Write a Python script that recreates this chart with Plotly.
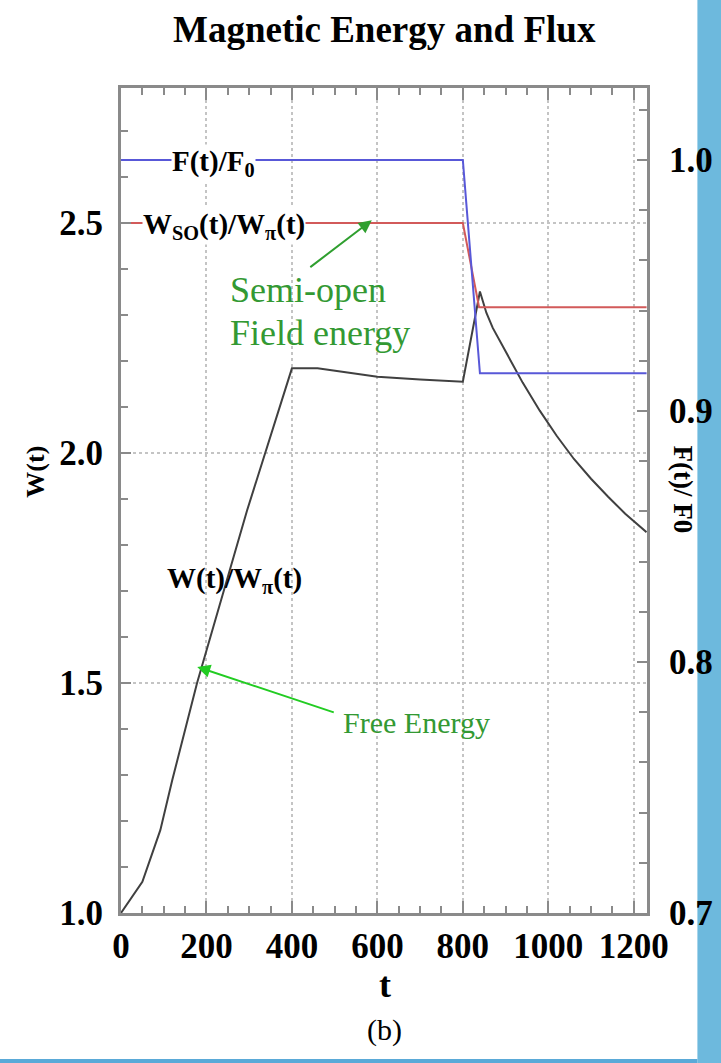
import plotly.graph_objects as go

# ---- data ----
t_w = [0, 50, 92, 120, 178, 295, 400, 460, 530, 600, 700, 800,
       840, 855, 870, 900, 940, 980, 1020, 1060, 1100, 1140, 1180, 1230]
w_free = [1.0, 1.068, 1.18, 1.289, 1.5, 1.875, 2.184, 2.184, 2.175,
          2.166, 2.16, 2.155, 2.351, 2.305, 2.272, 2.220, 2.153, 2.092, 2.037,
          1.987, 1.944, 1.905, 1.868, 1.828]

t_so = [0, 800, 838, 1230]
w_so = [2.5, 2.5, 2.317, 2.317]

t_f = [0, 800, 840, 1230]
f_flux = [1.0, 1.0, 0.915, 0.915]

x_ticks = [0, 200, 400, 600, 800, 1000, 1200]
w_ticks = [1.0, 1.5, 2.0, 2.5]
f_ticks = [0.7, 0.8, 0.9, 1.0]

# ---- layout geometry (pixels) ----
W_PX, H_PX = 721, 1063
L, R, T, B = 120.5, 647.5, 88, 913
PW, PH = R - L, B - T


def px(x):
    return (x - L) / PW


def py(y):
    return (B - y) / PH


SERIF = "Liberation Serif, Times New Roman, serif"
GREEN = "#339933"

fig = go.Figure()
fig.add_trace(go.Scatter(x=t_w, y=w_free, mode="lines",
                         line=dict(color="#404040", width=2), showlegend=False))
fig.add_trace(go.Scatter(x=t_so, y=w_so, mode="lines",
                         line=dict(color="#d25a5a", width=2), showlegend=False))
fig.add_trace(go.Scatter(x=t_f, y=f_flux, mode="lines", yaxis="y2",
                         line=dict(color="#5858d8", width=2), showlegend=False))

axis_line = dict(showline=True, linecolor="#8a8a8a", linewidth=3, automargin=False)
tickfont = dict(family=SERIF, size=35, color="black", weight="bold")

fig.update_layout(
    width=W_PX, height=H_PX,
    margin=dict(l=L, r=W_PX - R, t=T, b=H_PX - B, autoexpand=False),
    plot_bgcolor="white", paper_bgcolor="white",
    xaxis=dict(range=[0, 1231], tickvals=x_ticks, ticks="inside", ticklen=12,
               tickwidth=2, tickcolor="#8a8a8a", mirror="ticks",
               minor=dict(dtick=50, ticks="inside", ticklen=7, tickcolor="#8a8a8a", tickwidth=2),
               showgrid=True, gridcolor="#c4c4c4", griddash="dot", gridwidth=2,
               tickfont=tickfont, zeroline=False, ticklabelstandoff=0, **axis_line),
    yaxis=dict(range=[1.0, 1.0 + PH / 460.0], tickvals=w_ticks, ticktext=["1.0", "1.5", "2.0", "2.5"],
               ticks="inside", ticklen=10, tickwidth=2, tickcolor="#8a8a8a",
               minor=dict(dtick=0.1, ticks="inside", ticklen=7, tickcolor="#8a8a8a", tickwidth=2),
               showgrid=True, gridcolor="#c4c4c4", griddash="dot", gridwidth=2,
               tickfont=tickfont, zeroline=False, ticklabelstandoff=8, **axis_line),
    yaxis2=dict(range=[0.7, 0.7 + PH / 2510.0], overlaying="y", side="right",
                tickvals=f_ticks, ticktext=["0.7", "0.8", "0.9", "1.0"],
                ticks="inside", ticklen=10, tickwidth=2, tickcolor="#8a8a8a",
                minor=dict(dtick=0.02, ticks="inside", ticklen=8, tickcolor="#8a8a8a", tickwidth=2),
                showgrid=False, tickfont=tickfont, zeroline=False,
                ticklabelstandoff=12, **axis_line),
)


def note(text, x, y, font, **kw):
    d = dict(text=text, x=px(x), y=py(y), xref="paper", yref="paper", showarrow=False,
             xanchor="center", yanchor="middle", font=font)
    d.update(kw)
    return d


ann = []
ann.append(note("Magnetic Energy and Flux", 385, 30,
                dict(family=SERIF, size=37, color="black", weight="bold")))
ann.append(note("t", 385, 985, dict(family=SERIF, size=36, color="black", weight="bold")))
ann.append(note("(b)", 385, 1030, dict(family=SERIF, size=30, color="black")))
ann.append(note("W(t)", 34, 472, dict(family=SERIF, size=26, color="black", weight="bold"),
                textangle=-90))
ann.append(note("F(t)/ F0", 684, 490, dict(family=SERIF, size=27, color="black", weight="bold"),
                textangle=90))

lab_font = dict(family=SERIF, size=29, color="black", weight="bold")
ann.append(note("F(t)/F<sub>0</sub>", 213, 163, lab_font, bgcolor="white", borderpad=0))
ann.append(note("W<sub>SO</sub>(t)/W<sub>\u03c0</sub>(t)", 224, 226, lab_font,
                bgcolor="white", borderpad=0))
ann.append(note("W(t)/W<sub>\u03c0</sub>(t)", 234, 580, lab_font))

ann.append(note("Semi-open", 308, 290, dict(family=SERIF, size=36, color=GREEN)))
ann.append(note("Field energy", 320, 333, dict(family=SERIF, size=36, color=GREEN)))
ann.append(note("Free Energy", 417, 722, dict(family=SERIF, size=30, color=GREEN)))
ann.append(dict(text="", x=587, y=2.506, xref="x", yref="y", showarrow=True, arrowhead=2,
                arrowsize=1.3, arrowwidth=2, arrowcolor="#2f9f2f", ax=-63, ay=48, standoff=0))
ann.append(dict(text="", x=178.5, y=1.535, xref="x", yref="y", showarrow=True, arrowhead=2,
                arrowsize=1.3, arrowwidth=2, arrowcolor="#22cc22", ax=138, ay=46, standoff=0))
fig.update_layout(annotations=ann)

# decorative background band on the right and bottom line
fig.add_shape(type="rect", xref="paper", yref="paper", x0=px(698), x1=px(725), y0=py(1070), y1=py(-10),
              fillcolor="#6db9dd", line=dict(width=0), layer="below")
fig.add_shape(type="rect", xref="paper", yref="paper", x0=px(-5), x1=px(698), y0=py(1066), y1=py(1059),
              fillcolor="#5aaad8", line=dict(width=0), layer="below")

fig.write_html("out.html")
